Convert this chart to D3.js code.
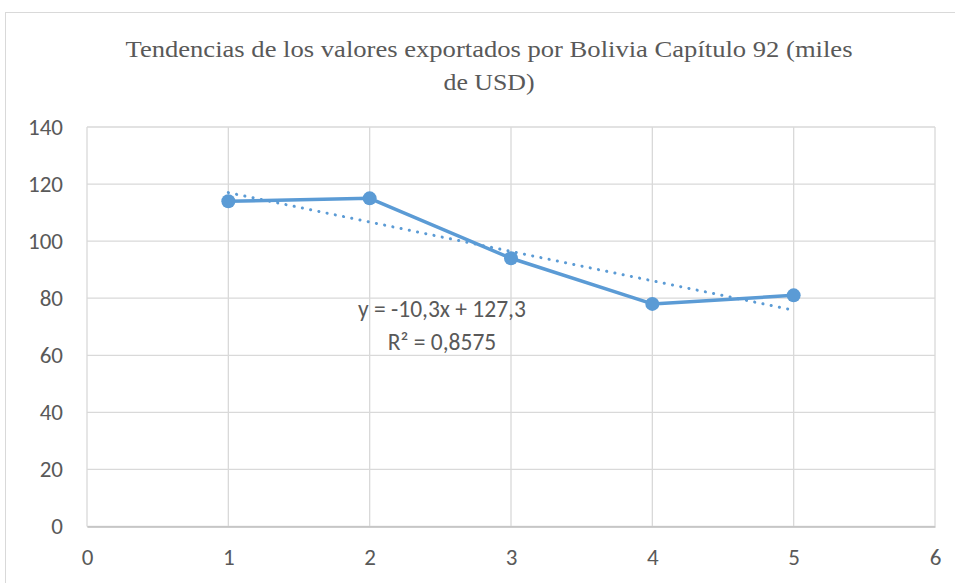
<!DOCTYPE html>
<html>
<head>
<meta charset="utf-8">
<script src="https://cdn.jsdelivr.net/npm/d3@7"></script>
<style>
  body { margin: 0; background: #fff; }
  svg { display: block; }
</style>
</head>
<body>
<svg width="955" height="583"></svg>
<script>
const xValues = [1, 2, 3, 4, 5];
const yValues = [114, 115, 94, 78, 81];
const xTicks = [0, 1, 2, 3, 4, 5, 6];
const yTicks = [0, 20, 40, 60, 80, 100, 120, 140];
const titleLines = ['Tendencias de los valores exportados por Bolivia Capítulo 92 (miles', 'de USD)'];
const equationLines = ['y = -10,3x + 127,3', 'R² = 0,8575'];

const margin = { top: 127, right: 20, bottom: 57, left: 87 };
const width = 935 - margin.left;
const height = 526.5 - margin.top;
const color = '#5B9BD5';
const textColor = '#595959';
const titleWidths = [727, 91];

const svg = d3.select('svg');

// chart border
svg.append('rect')
  .attr('x', 5.5).attr('y', 12.5)
  .attr('width', 980).attr('height', 600)
  .attr('fill', 'none').attr('stroke', '#d9d9d9').attr('stroke-width', 1);

// title (one text per line so each can be stretched like the original)
titleLines.forEach((t, i) => {
  svg.append('text')
    .attr('text-anchor', 'middle')
    .attr('x', 489)
    .attr('y', 57 + i * 33)
    .attr('textLength', titleWidths[i])
    .attr('lengthAdjust', 'spacingAndGlyphs')
    .style('font-family', "'Liberation Serif'")
    .style('font-size', '24px')
    .attr('fill', textColor)
    .text(t);
});

const g = svg.append('g')
  .attr('transform', `translate(${margin.left}, ${margin.top})`);

const x = d3.scaleLinear().domain([0, 6]).range([0, width]);
const y = d3.scaleLinear().domain([0, 140]).range([height, 0]);

// gridlines
g.append('g')
  .selectAll('line.h')
  .data(yTicks)
  .enter().append('line')
  .attr('x1', 0).attr('x2', width)
  .attr('y1', d => y(d)).attr('y2', d => y(d))
  .attr('stroke', '#d9d9d9').attr('stroke-width', 1.3);

g.append('g')
  .selectAll('line.v')
  .data(xTicks)
  .enter().append('line')
  .attr('x1', d => x(d)).attr('x2', d => x(d))
  .attr('y1', 0).attr('y2', height)
  .attr('stroke', '#d9d9d9').attr('stroke-width', 1.3);

// axes (labels only)
const styleTicks = a => a.selectAll('.tick text')
  .style('font-family', "'Carlito'")
  .style('font-size', '23px')
  .attr('fill', textColor);

g.append('g')
  .attr('transform', `translate(0, ${height})`)
  .call(d3.axisBottom(x).tickValues(xTicks).tickFormat(d3.format('d')).tickSize(0).tickPadding(22))
  .call(styleTicks)
  .call(a => a.select('.domain').attr('stroke', '#bfbfbf').attr('stroke-width', 1.5));

g.append('g')
  .call(d3.axisLeft(y).tickValues(yTicks).tickSize(0).tickPadding(24))
  .call(styleTicks)
  .call(a => a.select('.domain').remove());

// trendline (least squares)
const n = xValues.length;
const mx = d3.mean(xValues);
const my = d3.mean(yValues);
const slope = d3.sum(xValues, (v, i) => (v - mx) * (yValues[i] - my)) / d3.sum(xValues, v => (v - mx) * (v - mx));
const intercept = my - slope * mx;
const trendPts = [xValues[0], xValues[n - 1]].map(v => [v, intercept + slope * v]);

const line = d3.line().x(d => x(d[0])).y(d => y(d[1]));

g.append('path')
  .datum(xValues.map((v, i) => [v, yValues[i]]))
  .attr('d', line)
  .attr('fill', 'none')
  .attr('stroke', color)
  .attr('stroke-width', 3.5)
  .attr('stroke-linejoin', 'round');

g.append('path')
  .datum(trendPts)
  .attr('d', line)
  .attr('fill', 'none')
  .attr('stroke', color)
  .attr('stroke-width', 3)
  .attr('stroke-linecap', 'round')
  .attr('stroke-dasharray', '0.1 8.3');

g.selectAll('.dot')
  .data(xValues.map((v, i) => [v, yValues[i]]))
  .enter().append('circle')
  .attr('cx', d => x(d[0]))
  .attr('cy', d => y(d[1]))
  .attr('r', 7)
  .attr('fill', color);

const eq = svg.append('text')
  .attr('text-anchor', 'middle')
  .style('font-family', "'Carlito'")
  .style('font-size', '23.5px')
  .attr('fill', textColor);
equationLines.forEach((t, i) => {
  eq.append('tspan')
    .attr('x', 442)
    .attr('y', 317 + i * 33)
    .text(t);
});
</script>
</body>
</html>
